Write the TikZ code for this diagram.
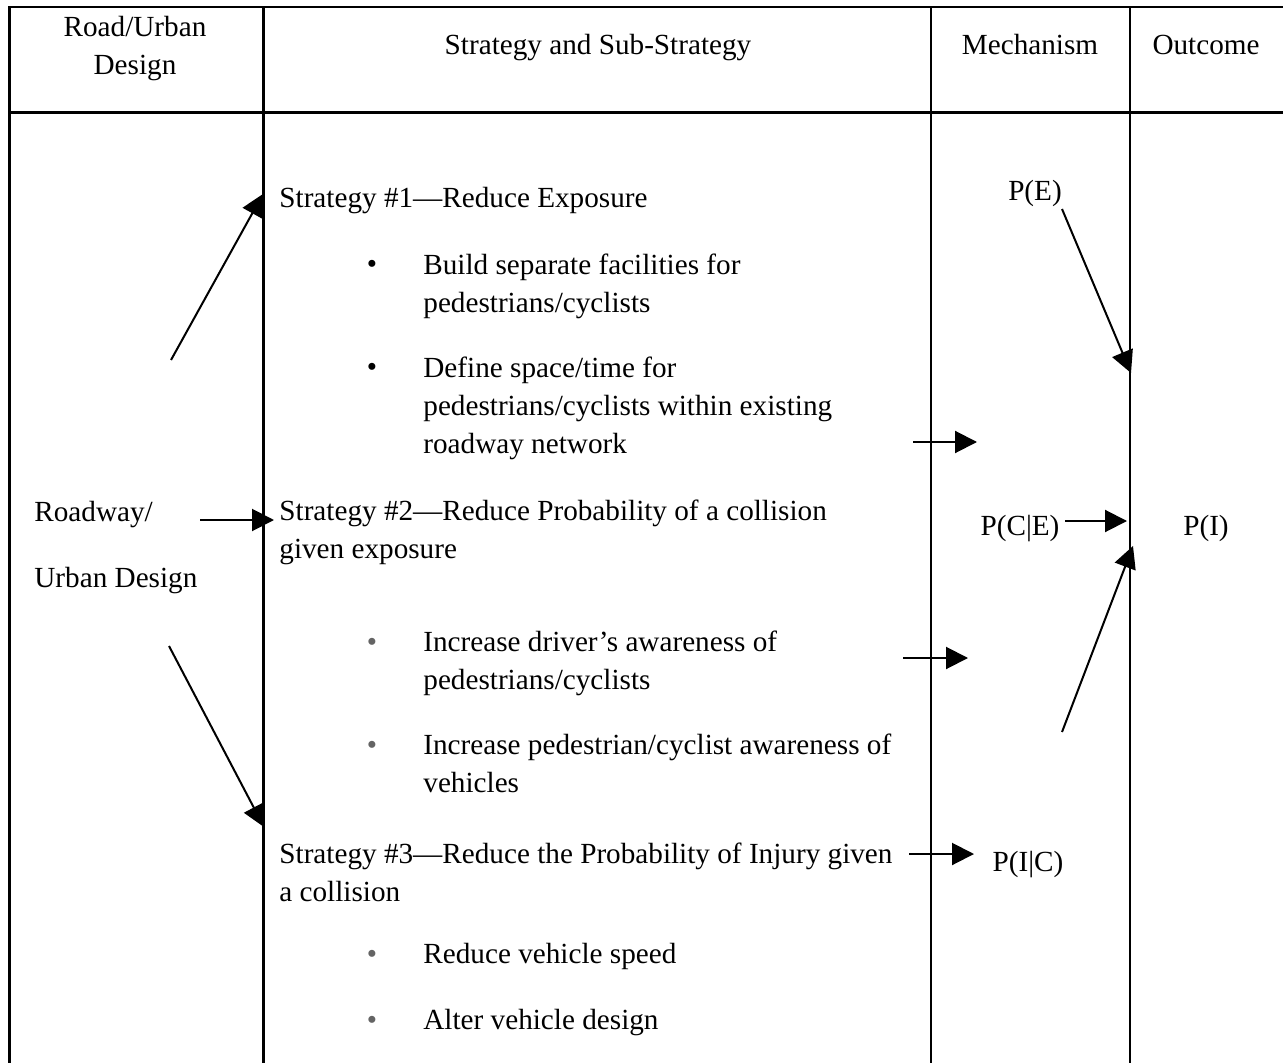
\documentclass[tikz,border=0pt]{standalone}
\usepackage{fontspec}
\setmainfont{Liberation Serif}
\usetikzlibrary{arrows.meta}
\definecolor{dotgray}{RGB}{100,100,100}
\tikzset{
  txt/.style={font=\fontsize{14.6}{19}\selectfont, inner sep=0pt},
  body/.style={txt, anchor=north west, align=left},
  dot/.style={txt, anchor=base},
  lbl/.style={txt, anchor=mid},
  arr/.style={line width=1pt, -{Triangle[length=11pt,width=11pt]}},
  rule/.style={line width=1.4pt}
}
\begin{document}
\begin{tikzpicture}[x=0.5pt,y=-0.5pt]
\useasboundingbox (0,0) rectangle (1283,1063);

\draw[rule] (9.5,1063) -- (9.5,7) -- (1283,7);
\draw[rule] (9.5,112.5) -- (1283,112.5);
\draw[rule] (263.5,7) -- (263.5,1063);
\draw[rule] (931,7) -- (931,1063);
\draw[rule] (1130,7) -- (1130,1063);

\node[txt, align=center] (hroad) at (135,49) {Road/Urban\\Design};
\node[lbl] (hstrat) at (598,50) {Strategy and Sub-Strategy};
\node[lbl] (hmech) at (1030,50) {Mechanism};
\node[lbl] (hout) at (1206,50) {Outcome};

\node[body] (road1) at (34,501) {Roadway/};
\node[body] (road2) at (34,567) {Urban Design};

\node[body] (s1) at (279,187) {Strategy \#1—Reduce Exposure};
\node[dot] (d1) at (372,274) {•};
\node[body] (b1) at (423,254) {Build separate facilities for\\pedestrians/cyclists};
\node[dot] (d2) at (372,377) {•};
\node[body] (b2) at (423,357) {Define space/time for\\pedestrians/cyclists within existing\\roadway network};

\node[body] (s2) at (279,500) {Strategy \#2—Reduce Probability of a collision\\given exposure};
\node[dot, dotgray] (d3) at (372,651) {•};
\node[body] (b3) at (423,631) {Increase driver’s awareness of\\pedestrians/cyclists};
\node[dot, dotgray] (d4) at (372,754) {•};
\node[body] (b4) at (423,734) {Increase pedestrian/cyclist awareness of\\vehicles};

\node[body] (s3) at (279,843) {Strategy \#3—Reduce the Probability of Injury given\\a collision};
\node[dot, dotgray] (d5) at (372,963) {•};
\node[body] (b5) at (423,943) {Reduce vehicle speed};
\node[dot, dotgray] (d6) at (372,1029) {•};
\node[body] (b6) at (423,1009) {Alter vehicle design};

\node[lbl] (pe) at (1035,196) {P(E)};
\node[lbl] (pce) at (1020,531) {P(C|E)};
\node[lbl] (pi) at (1206,531) {P(I)};
\node[lbl] (pic) at (1028,867) {P(I|C)};

\coordinate (up0) at (171,360);   \coordinate (up1) at (263,194);
\coordinate (mid0) at (200,520);  \coordinate (mid1) at (274,520);
\coordinate (dn0) at (169,646);   \coordinate (dn1) at (264,827);
\coordinate (x10) at (913,442);   \coordinate (x11) at (977,442);
\coordinate (x20) at (903,658);   \coordinate (x21) at (968,658);
\coordinate (x30) at (909,854);   \coordinate (x31) at (974,854);
\coordinate (e0) at (1062,209);   \coordinate (e1) at (1131,373);
\coordinate (c0) at (1065,521);   \coordinate (c1) at (1127,521);
\coordinate (i0) at (1062,732);   \coordinate (i1) at (1133,546);

\draw[arr] (up0) -- (up1);
\draw[arr] (mid0) -- (mid1);
\draw[arr] (dn0) -- (dn1);
\draw[arr] (x10) -- (x11);
\draw[arr] (x20) -- (x21);
\draw[arr] (x30) -- (x31);
\draw[arr] (e0) -- (e1);
\draw[arr] (c0) -- (c1);
\draw[arr] (i0) -- (i1);
\end{tikzpicture}
\end{document}
